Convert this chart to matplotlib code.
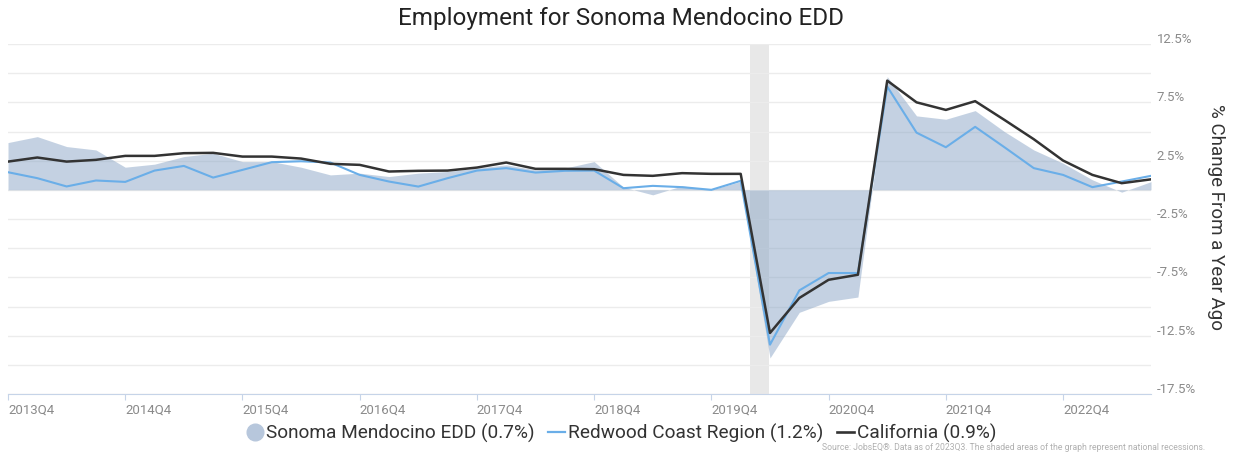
import matplotlib
matplotlib.use("Agg")
import matplotlib.pyplot as plt
from matplotlib.lines import Line2D
from matplotlib.transforms import ScaledTranslation
import numpy as np

plt.rcParams['font.family'] = ['Roboto', 'DejaVu Sans']

quarters = [f"{y}Q{q}" for y, q in
            [(2013, 4)] + [(y, q) for y in range(2014, 2023) for q in (1, 2, 3, 4)] + [(2023, 1), (2023, 2), (2023, 3)]]

sonoma = [4.05, 4.56, 3.71, 3.42, 1.94, 2.20, 2.85, 3.14, 2.42, 2.42,
          1.94, 1.28, 1.43, 1.14, 1.43, 1.57, 1.86, 2.14, 1.71, 1.86,
          2.42, 0.23, -0.43, 0.34, 0.00, 0.71, -14.41, -10.50, -9.56, -9.19,
          9.70, 6.34, 6.05, 6.79, 4.99, 3.42, 2.28, 0.86, -0.20, 0.70]

redwood = [1.51, 1.00, 0.29, 0.80, 0.68, 1.65, 2.05, 1.05, 1.71, 2.37,
           2.45, 2.34, 1.28, 0.71, 0.28, 1.00, 1.65, 1.86, 1.48, 1.63,
           1.65, 0.14, 0.34, 0.23, 0.00, 0.77, -13.27, -8.62, -7.13, -7.13,
           8.85, 4.90, 3.65, 5.40, 3.65, 1.86, 1.28, 0.23, 0.71, 1.20]

california = [2.42, 2.77, 2.42, 2.57, 2.91, 2.91, 3.14, 3.17, 2.85, 2.85,
              2.68, 2.23, 2.14, 1.57, 1.63, 1.65, 1.91, 2.34, 1.80, 1.80,
              1.77, 1.28, 1.20, 1.43, 1.37, 1.37, -12.27, -9.27, -7.71, -7.28,
              9.36, 7.50, 6.85, 7.60, 5.99, 4.34, 2.51, 1.28, 0.57, 0.90]

series_labels = ["Sonoma Mendocino EDD (0.7%)", "Redwood Coast Region (1.2%)", "California (0.9%)"]
recession = (25.33, 25.95)  # in quarter-index units (Feb–Apr 2020)

x = np.arange(len(quarters))

fig = plt.figure(figsize=(12.33, 4.53), dpi=100)
ax = fig.add_axes([8 / 1233, 59 / 453, (1151 - 8) / 1233, (394 - 44) / 453])

ax.axvspan(recession[0], recession[1], color='#e8e8e8', zorder=0, lw=0)
ax.fill_between(x, 0, sonoma, color='#8aa5c6', alpha=0.5, lw=0, zorder=2)
ax.plot(x, redwood, color='#6aaee8', lw=1.5, zorder=3)
ax.plot(x, california, color='#333333', lw=1.8, zorder=4)

ax.set_xlim(0, len(quarters) - 1)
ax.set_ylim(-17.5, 12.5)

yt = np.arange(-17.5, 12.6, 2.5)
ax.set_yticks(yt)
ax.set_yticklabels([f"{v:.1f}%" if (round(v / 2.5) % 2 == 1) else "" for v in yt])
ax.yaxis.tick_right()
ax.tick_params(axis='y', length=0, pad=4, labelsize=9.5, labelcolor='#8a8a8a')
off = ScaledTranslation(0, 6 / 100, fig.dpi_scale_trans)
for lab in ax.get_yticklabels():
    lab.set_transform(lab.get_transform() + off)
ax.grid(axis='y', color='#ececec', lw=1, zorder=1)
ax.set_axisbelow(True)

xt = x[::4]
ax.set_xticks(xt)
ax.set_xticklabels([quarters[i] for i in xt], ha='left')
ax.tick_params(axis='x', length=4, color='#c6d4e8', labelsize=9.5, labelcolor='#8a8a8a', pad=3)

for s in ['top', 'left', 'right']:
    ax.spines[s].set_visible(False)
ax.spines['bottom'].set_color('#c6d4e8')

fig.text(621 / 1233, 1 - 19 / 453, "Employment for Sonoma Mendocino EDD", ha='center', va='center',
         fontsize=17.5, color='#222222')
fig.text(1216 / 1233, 1 - 217 / 453, "% Change From a Year Ago", rotation=270, ha='center', va='center',
         fontsize=13.5, color='#333333')

handles = [Line2D([], [], marker='o', ls='', markersize=12, color='#b7c7dc'),
           Line2D([], [], color='#6aaee8', lw=1.6),
           Line2D([], [], color='#333333', lw=1.9)]
fig.legend(handles, series_labels, loc='center', bbox_to_anchor=(621 / 1233, 1 - 433 / 453), ncol=3,
           frameon=False, fontsize=13.7, handlelength=0.9, handletextpad=0.15, columnspacing=0.7,
           labelcolor='#333333')

fig.text(822 / 1233, 1 - 448 / 453, "Source: JobsEQ®. Data as of 2023Q3. The shaded areas of the graph represent national recessions.",
         fontsize=6.2, color='#b0b0b0', ha='left', va='center')

fig.savefig("out.png", dpi=100)
